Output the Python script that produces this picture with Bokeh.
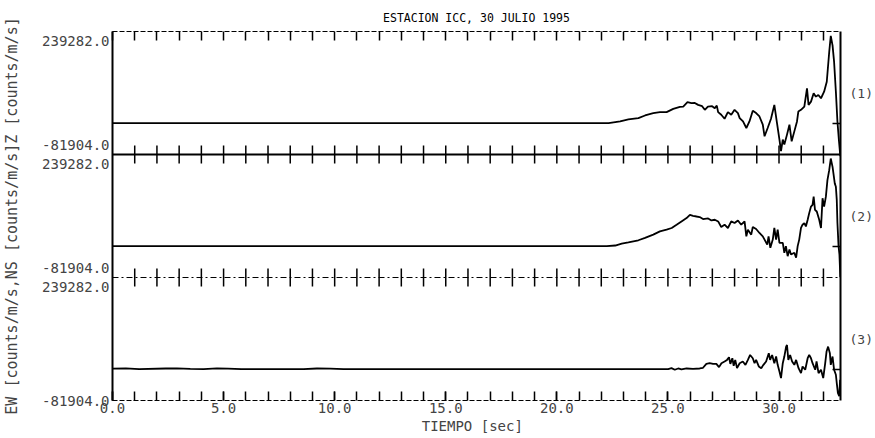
import math
from bokeh.plotting import figure
from bokeh.models import (Range1d, LinearAxis, SingleIntervalTicker, FixedTicker,
                          Span, PrintfTickFormatter)
from bokeh.embed import file_html
from bokeh.resources import INLINE

# ---------------- data ----------------
TITLE = "ESTACION ICC, 30 JULIO 1995"
X_LABEL = "TIEMPO  [sec]"
Y_LABEL = "EW [counts/m/s,NS [counts/m/s]Z [counts/m/s]"
PANEL_TAGS = ["(1)", "(2)", "(3)"]
T_END = 32.768
Y_MIN = -81904
Y_MAX = 239282

# trace (1)  (Z)
T1 = [0.0, 22.33, 22.85, 23.22, 23.67, 23.97, 24.34, 24.64, 24.94, 25.24, 25.54,
      25.69, 25.88, 26.06, 26.21, 26.36, 26.54, 26.66, 26.80, 26.99, 27.11, 27.20,
      27.26, 27.40, 27.55, 27.70, 27.85, 28.00, 28.15, 28.23, 28.38, 28.53,
      28.67, 28.82, 28.97, 29.12, 29.27, 29.35, 29.49, 29.64, 29.79, 29.91,
      30.02, 30.09, 30.17, 30.24, 30.36, 30.47, 30.57, 30.69, 30.81, 30.87,
      30.99, 31.14, 31.26, 31.33, 31.44, 31.56, 31.66, 31.77, 31.89, 32.03,
      32.15, 32.26, 32.33, 32.41, 32.48, 32.56, 32.63, 32.70, 32.76]
V1 = [0, 0, 4400, 9600, 13200, 20000, 26000, 28700, 28700, 37300, 42500,
      43300, 54600, 52000, 52800, 47700, 44300, 34700, 43300, 44300, 39100, 45800,
      28700, 21800, 11400, 28700, 21800, 34700, 26200, 13200, 4400, -12700,
      4400, 32100, 26200, 17400, -4100, -34400, -12700, 11400, 47700, 0,
      -43000, -73300, -43000, -55900, -30000, -4100, -47400, -21500, 4400, 30300,
      34700, 43300, 90900, 47700, 56200, 78000, 69200, 73600, 65000, 82100,
      108000, 185700, 228000, 203100, 159800, 82100, 4400, -47400, -86200]

# trace (2)  (NS)
T2 = [0.0, 22.25, 22.63, 22.92, 23.22, 23.67, 23.97, 24.34, 24.64, 24.94, 25.17,
      25.39, 25.61, 25.84, 25.99, 26.13, 26.29, 26.43, 26.58, 26.81, 26.96,
      27.11, 27.26, 27.40, 27.55, 27.70, 27.85, 28.00, 28.15, 28.30, 28.45,
      28.53, 28.60, 28.75, 28.82, 28.97, 29.12, 29.27, 29.35, 29.47, 29.53,
      29.61, 29.72, 29.79, 29.87, 29.94, 30.02, 30.17, 30.24, 30.31, 30.39,
      30.47, 30.54, 30.69, 30.77, 30.84, 30.91, 30.99, 31.06, 31.14, 31.21,
      31.29, 31.36, 31.44, 31.51, 31.56, 31.62, 31.70, 31.81, 31.89, 31.96,
      32.03, 32.11, 32.18, 32.26, 32.33, 32.41, 32.45, 32.51, 32.56, 32.60,
      32.63, 32.68, 32.72, 32.76]
V2 = [0, 0, 1600, 6700, 10100, 15300, 21500, 30000, 38600, 43000, 47400,
      55900, 64500, 73300, 81800, 79300, 77400, 75900, 70700, 72300, 67100,
      68900, 64500, 50000, 55900, 47400, 64500, 60300, 67100, 55900, 64500,
      25600, 43000, 30000, 50000, 44800, 34400, 25600, 17100, 4100, 25600,
      -4400, 17100, 47400, 17100, 43000, 8500, 8500, -17400, 0, -26200,
      -8800, -21800, -17400, -30300, 0, 17100, 47400, 55900, 60300, 51500,
      68900, 86200, 103300, 107700, 129200, 94800, 90400, 68900, 47400, 125100,
      103300, 129200, 172500, 198400, 228700, 206900, 189800, 163900, 155100, 120700,
      60300, 0, -21800, -81000]

# trace (3)  (EW)
T3 = [0.0, 0.6, 1.2, 2.4, 2.9, 3.5, 4.1, 4.7, 5.2, 5.8, 8.6, 9.2, 9.8, 10.4,
      25.01, 25.16, 25.31, 25.46, 25.61, 25.84, 26.13, 26.43, 26.58, 26.73,
      26.88, 27.03, 27.18, 27.30, 27.41, 27.55, 27.66, 27.75, 27.81, 27.90,
      27.96, 28.03, 28.11,
      28.23, 28.37, 28.49, 28.60, 28.70, 28.82, 28.90, 28.97, 29.09, 29.20,
      29.30, 29.42, 29.54, 29.60, 29.69, 29.79, 29.87, 29.94, 30.02, 30.09,
      30.17, 30.24, 30.32, 30.36, 30.42, 30.50, 30.59, 30.69, 30.77, 30.88,
      30.99, 31.06, 31.18, 31.29, 31.36, 31.44, 31.51, 31.63, 31.69, 31.78,
      31.89, 31.99, 32.08, 32.14, 32.21, 32.29, 32.33, 32.41, 32.48, 32.56,
      32.60, 32.65, 32.71, 32.75]
V3 = [1500, 1800, 0, 1700, 2200, 600, 0, 1900, 1200, 0, 0, 1600, 1300, 0,
      0, 2600, -1700, 1700, -900, 1700, 900, 1700, 3500, 13800,
      15500, 13800, 13800, 5200, 15500, 19900, 24100, 31100, 13800, 28500,
      8600, 24100, 2600,
      15500, 19900, 11200, 24100, 37000, 28500, 15500, 24100, 7000, 2600,
      11200, 19900, 41400, 24100, 37000, 15500, 32900, 11200, -6000, -23300,
      15500, 32900, 58800, 62900, 24100, 37000, 19900, 11200, 24100, 2600,
      -10400, 7000, -1700, 28500, 37000, 28500, 15500, -1700, 19900, -10400,
      -1700, -23300, 15500, 45800, 58800, 41400, 11200, 32900, -1700, -14700,
      -36300, -62200, -70700, -27700]

TRACES = [(T1, V1), (T2, V2), (T3, V3)]

# ---------------- figure ----------------
FONT = "DejaVu Sans Mono"
N = len(TRACES)
SPAN = Y_MAX - Y_MIN

p = figure(width=875, height=438, output_backend="svg", toolbar_location=None, tools="",
           x_range=Range1d(0, T_END), y_range=Range1d(Y_MIN, Y_MIN + N * SPAN),
           min_border_left=110, min_border_right=33, min_border_top=31, min_border_bottom=38)
p.grid.visible = False
p.outline_line_color = None
p.background_fill_color = "white"
p.border_fill_color = "white"

p.title.text = TITLE
p.title.align = "center"
p.title.text_font = FONT
p.title.text_font_size = "11.5px"
p.title.text_font_style = "normal"
p.title.text_color = "black"
p.title.standoff = 14

for k in range(N):
    p.extra_y_ranges[f"p{k}"] = Range1d(Y_MIN - (N - 1 - k) * SPAN, Y_MAX + k * SPAN)

# bottom axis
xa = p.xaxis[0]
xa.ticker = SingleIntervalTicker(interval=5, num_minor_ticks=5)
xa.formatter = PrintfTickFormatter(format="%.1f")
xa.major_tick_in = 9
xa.major_tick_out = 0
xa.minor_tick_in = 9
xa.minor_tick_out = 0
xa.major_tick_line_width = 1.5
xa.minor_tick_line_width = 1.5
xa.axis_line_dash = "5 2"
xa.major_label_text_font = FONT
xa.major_label_text_font_size = "14px"
xa.major_label_standoff = 2
xa.axis_label = X_LABEL
xa.axis_label_text_font = FONT
xa.axis_label_text_font_size = "14px"
xa.axis_label_text_font_style = "normal"
xa.axis_label_standoff = 2

# top axis (ticks only, labels not painted)
ta = LinearAxis(ticker=SingleIntervalTicker(interval=1), major_tick_in=9, major_tick_out=0,
                major_tick_line_width=1.5, minor_tick_in=0, minor_tick_out=0,
                major_label_text_font_size="1px", major_label_text_color=None,
                major_label_standoff=0, axis_line_dash="5 2")
p.add_layout(ta, "above")

# left axis
lo = f"{Y_MIN:.1f}"
hi = f"{Y_MAX:.1f}"
ya = p.yaxis[0]
ya.ticker = FixedTicker(ticks=[Y_MIN, Y_MAX, Y_MAX + SPAN, Y_MAX + 2 * SPAN])
ya.major_label_overrides = {Y_MIN: lo, Y_MAX: lo + "\n" + hi,
                            Y_MAX + SPAN: lo + "\n" + hi, Y_MAX + 2 * SPAN: "\n" + hi}
ya.major_tick_in = 0
ya.major_tick_out = 0
ya.minor_tick_in = 0
ya.minor_tick_out = 0
ya.axis_line_width = 2
ya.major_label_text_font = FONT
ya.major_label_text_font_size = "14px"
ya.major_label_standoff = 3
ya.axis_label = Y_LABEL
ya.axis_label_text_font = FONT
ya.axis_label_text_font_size = "15px"
ya.axis_label_text_font_style = "normal"
ya.axis_label_standoff = 18

# right axis: zero-level ticks (minor) and panel tags (major labels)
zeros = [k * SPAN for k in range(N)]
mid = (Y_MIN + Y_MAX) // 2
mids = [mid + k * SPAN for k in range(N)]
ra = LinearAxis(ticker=FixedTicker(ticks=mids, minor_ticks=zeros),
                major_tick_in=0, major_tick_out=0, minor_tick_in=8, minor_tick_out=0,
                minor_tick_line_width=1.5, axis_line_width=2,
                major_label_overrides={m: PANEL_TAGS[N - 1 - j] for j, m in enumerate(mids)},
                major_label_text_font=FONT, major_label_text_font_size="13px",
                major_label_standoff=9)
p.add_layout(ra, "right")

# panel separators
bounds = [Y_MAX + j * SPAN for j in range(N - 1)]
p.add_layout(Span(location=bounds[0], dimension="width", line_color="black",
                  line_width=1, line_dash="6 3 2 3"))
p.add_layout(Span(location=bounds[1], dimension="width", line_color="black", line_width=2))

secs = list(range(1, int(T_END) + 1))
for b in bounds:
    p.scatter(secs, [b] * len(secs), marker="dash", angle=math.pi / 2, size=18,
              line_color="black", line_width=1.5)

# traces
for k, (t, v) in enumerate(TRACES):
    p.line(t, v, y_range_name=f"p{k}", line_color="black", line_width=1.8)

open("out.html", "w").write(file_html(p, INLINE))
